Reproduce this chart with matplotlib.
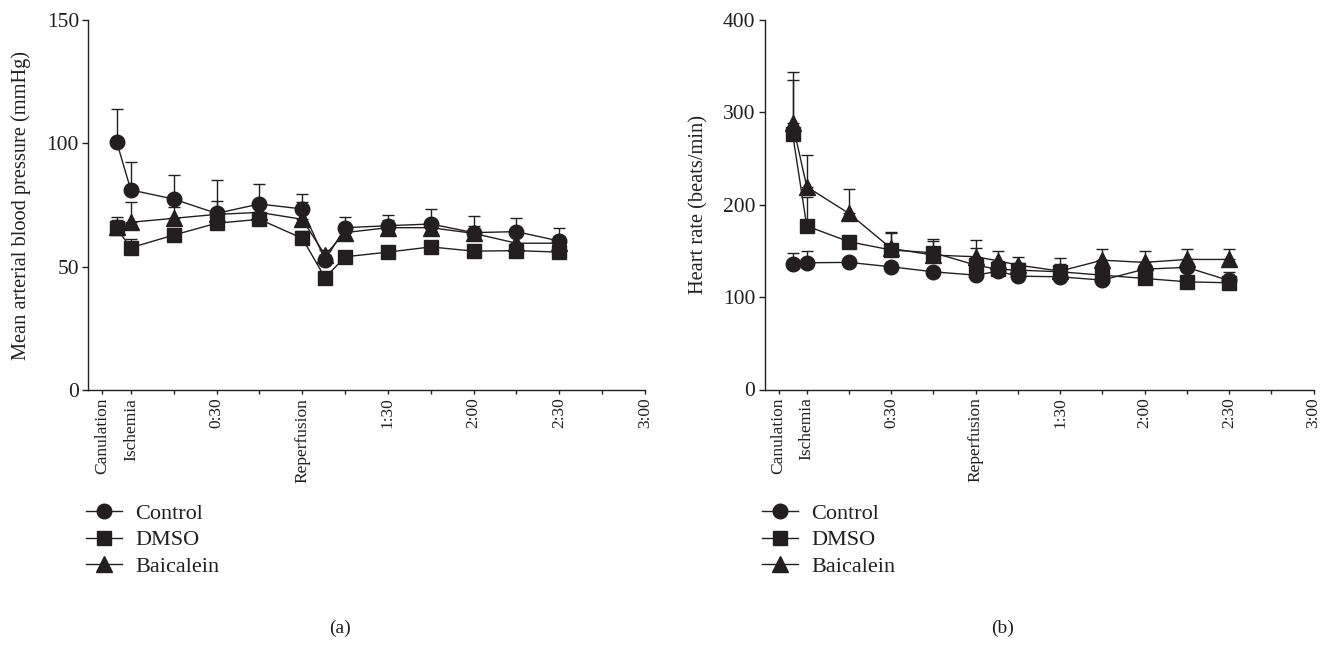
import numpy as np
import matplotlib
matplotlib.use("Agg")
import matplotlib.pyplot as plt
from matplotlib.lines import Line2D

plt.rcParams['font.family'] = ['Liberation Serif', 'DejaVu Serif']

# time in minutes relative to ischemia
time = [-5, 0, 15, 30, 45, 60, 68, 75, 90, 105, 120, 135, 150]

# (a) mean arterial blood pressure
map_control = [100.7, 81.1, 77.4, 71.6, 75.4, 73.4, 52.7, 65.8, 66.6, 67.3, 63.8, 64.2, 60.4]
map_control_err = [13.1, 11.4, 9.8, 13.5, 8.2, 6.2, 2.0, 4.5, 4.5, 6.2, 6.6, 5.5, 5.4]
map_dmso = [65.5, 57.7, 62.8, 67.6, 69.2, 61.5, 45.5, 54.0, 55.9, 58.0, 56.3, 56.5, 55.9]
map_dmso_err = [4.8, 3.5, 2.5, 3.0, 2.5, 3.0, 2.0, 2.0, 2.0, 2.0, 2.0, 2.0, 2.0]
map_baic = [66.0, 68.0, 69.6, 71.2, 72.0, 69.2, 54.7, 63.8, 65.8, 65.8, 63.5, 59.5, 59.5]
map_baic_err = [3.0, 8.3, 4.6, 5.3, 3.0, 7.0, 2.0, 3.0, 3.0, 3.0, 3.0, 3.0, 3.0]

# (b) heart rate
hr_control = [135.7, 137.2, 137.6, 132.8, 127.4, 123.8, 128.0, 122.7, 122.0, 118.4, 130.3, 132.2, 118.0]
hr_control_err = [11.6, 13.0, 3.0, 3.0, 3.0, 3.0, 3.0, 3.0, 3.0, 3.0, 3.0, 3.0, 3.0]
hr_dmso = [276.6, 177.0, 160.0, 151.0, 148.0, 134.7, 130.0, 129.3, 127.4, 123.8, 120.2, 116.6, 115.5]
hr_dmso_err = [58.0, 31.0, 5.0, 20.0, 15.0, 19.0, 8.0, 8.0, 8.0, 7.0, 5.0, 5.0, 12.0]
hr_baic = [288.0, 219.5, 190.6, 152.7, 145.5, 143.7, 139.3, 134.7, 128.2, 140.0, 137.6, 140.8, 140.8]
hr_baic_err = [56.0, 34.0, 26.0, 17.0, 15.0, 18.0, 11.0, 9.0, 14.0, 12.0, 12.0, 11.0, 11.0]

tick_pos = [-10, 0, 15, 30, 45, 60, 75, 90, 105, 120, 135, 150, 165, 180]
tick_lab = ["Canulation", "Ischemia", "", "0:30", "", "Reperfusion", "", "1:30", "",
            "2:00", "", "2:30", "", "3:00"]

names = ["Control", "DMSO", "Baicalein"]
markers = ["o", "s", "^"]
col = "#231f20"
ms = 10.5

fig = plt.figure(figsize=(13.24, 6.46), dpi=100)
W, H = 1324.0, 646.0


def panel(rect, series, errs, ylim, yticks, ylabel):
    ax = fig.add_axes(rect)
    # draw order: control, baicalein, dmso
    for i in [0, 2, 1]:
        y = np.array(series[i])
        e = np.array(errs[i])
        ax.errorbar(time, y, yerr=[np.zeros_like(e), e], color=col, marker=markers[i],
                    markersize=ms if i != 2 else ms + 1, lw=1.0, elinewidth=1.0,
                    capsize=4.5, capthick=1.0, clip_on=False)
    ax.set_xlim(-15, 180)
    ax.set_ylim(*ylim)
    ax.set_yticks(yticks)
    ax.set_xticks(tick_pos)
    ax.set_xticklabels(tick_lab, rotation=90, va="top", ha="center")
    ax.spines["top"].set_visible(False)
    ax.spines["right"].set_visible(False)
    for s in ["left", "bottom"]:
        ax.spines[s].set_linewidth(1.0)
        ax.spines[s].set_color(col)
    ax.tick_params(axis="x", direction="out", length=3, width=1.0, pad=2.5,
                   labelsize=12.5, colors=col)
    ax.tick_params(axis="y", direction="out", length=4, width=1.0, pad=2.5,
                   labelsize=15.5, colors=col)
    ax.set_ylabel(ylabel, fontsize=14.7, color=col)
    return ax


ax1 = panel([88 / W, 1 - 390 / H, 557 / W, 370 / H],
            [map_control, map_dmso, map_baic],
            [map_control_err, map_dmso_err, map_baic_err],
            (0, 150), [0, 50, 100, 150], "Mean arterial blood pressure (mmHg)")
ax1.yaxis.set_label_coords((31 - 88) / 557, 0.5)

ax2 = panel([764.5 / W, 1 - 389.5 / H, 549 / W, 369.5 / H],
            [hr_control, hr_dmso, hr_baic],
            [hr_control_err, hr_dmso_err, hr_baic_err],
            (0, 400), [0, 100, 200, 300, 400], "Heart rate (beats/min)")
ax2.yaxis.set_label_coords((708 - 764.5) / 549, 0.5)

handles = [Line2D([], [], color=col, marker=m, markersize=ms + (1 if m == "^" else 0), lw=1.0)
           for m in markers]
for x0 in [86, 762]:
    fig.legend(handles, names, loc="upper left", bbox_to_anchor=(x0 / W, 1 - 503 / H),
               frameon=False, fontsize=16, handlelength=1.6, handletextpad=0.6,
               labelspacing=0.28, borderpad=0, borderaxespad=0, labelcolor=col)

fig.text(340 / W, 1 - 628 / H, "(a)", ha="center", va="center", fontsize=14, color=col)
fig.text(1003 / W, 1 - 628 / H, "(b)", ha="center", va="center", fontsize=14, color=col)

fig.savefig("out.png", dpi=100)
